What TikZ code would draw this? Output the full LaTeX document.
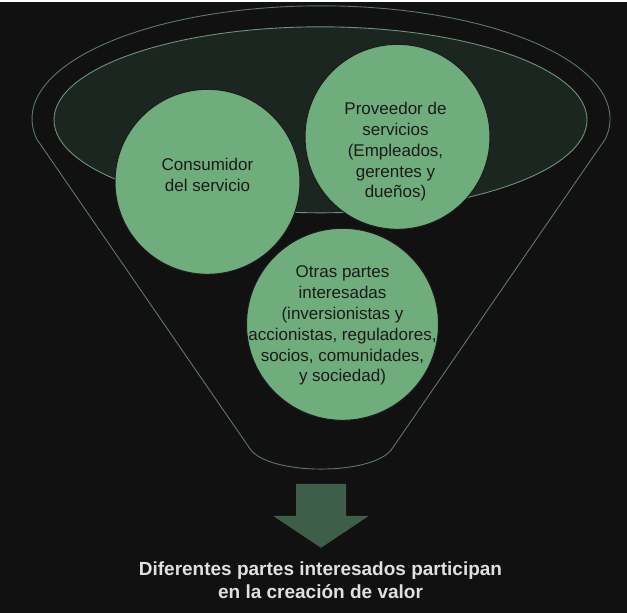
\documentclass[tikz,border=0pt]{standalone}
\usepackage{fontspec}
\setmainfont{Liberation Sans}
\usepackage{tikz}
\usetikzlibrary{positioning}
\definecolor{mybackground}{RGB}{17, 17, 17}
\definecolor{myfunnelline}{RGB}{92, 120, 102}
\definecolor{mybowlfill}{RGB}{27, 38, 32}
\definecolor{mybowlline}{RGB}{110, 145, 120}
\definecolor{mygreendisc}{RGB}{112, 173, 124}
\definecolor{mydarktext}{RGB}{27, 27, 27}
\definecolor{myarrowgreen}{RGB}{63, 94, 74}
\definecolor{mycaption}{RGB}{224, 224, 224}

\begin{document}
\begin{tikzpicture}[x = 1pt, y = -1pt, disc/.style={circle, draw = mydarktext, fill = mygreendisc, line width = 1pt, inner sep = 0pt, minimum size = #1}, disctext/.style={align = center, text = mydarktext, font = \fontsize{17}{20.8}\selectfont}]
  % background
  \fill[mybackground] (0,0) rectangle (627,611);

  % funnel and bowl
  \draw[myfunnelline, line width = 0.9pt] (36.6,137) arc[start angle = 169.8, end angle = 370.2, x radius = 289, y radius = 113] -- (392,447) .. controls (373.4,474) and (268.6,474) .. (250,447) -- cycle;
  \draw[mybowlline, fill = mybowlfill, line width = 0.9pt] (320.5,118) ellipse [x radius = 266.5, y radius = 93];

  % nodes
  \node [disc = 185pt] (consumer) at (207.5,180) {};
  \node [disc = 185pt] (provider) at (397.5,135) {};
  \node [disc = 192pt] (others) at (342.5,322.5) {};

  \node [disctext] (consumer-text) at ([yshift = 7pt] consumer.center) {Consumidor\\del servicio};
  \node [disctext] (provider-text) at ([xshift = -2pt, yshift = -15pt] provider.center) {Proveedor de\\servicios\\(Empleados,\\gerentes y\\dueños)};
  \node [disctext] (others-text) at ([yshift = -1.5pt] others.center) {Otras partes\\interesadas\\(inversionistas y\\accionistas, reguladores,\\socios, comunidades,\\y sociedad)};

  % arrow and caption
  \fill[myarrowgreen] (296,482) -- (346,482) -- (346,514) -- (369,514) -- (321,546) -- (273,514) -- (296,514) -- cycle;
  \node [align = center, text = mycaption, font = \bfseries\fontsize{19}{23}\selectfont] (caption) at (320.5,578.5) {Diferentes partes interesados participan\\en la creación de valor};

\end{tikzpicture}
\end{document}
